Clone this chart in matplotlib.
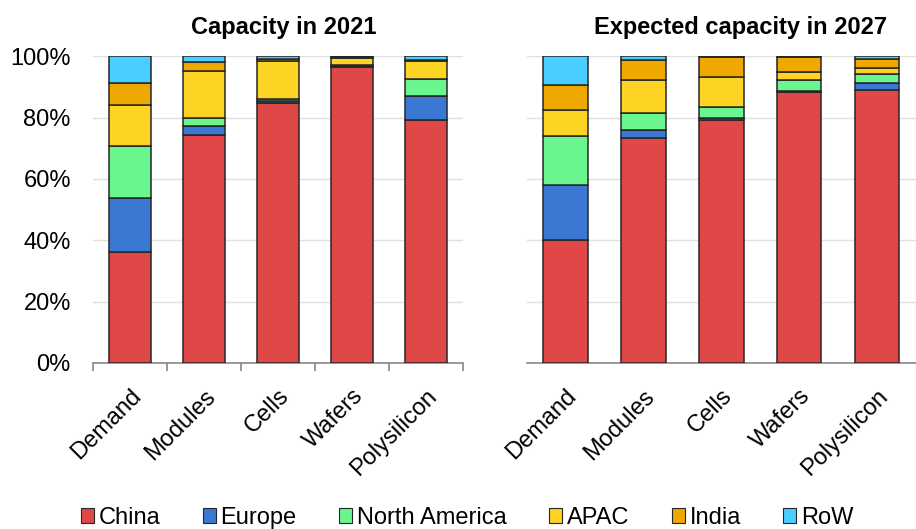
import numpy as np
import matplotlib
matplotlib.use("Agg")
import matplotlib.pyplot as plt
from matplotlib.ticker import PercentFormatter
from matplotlib.patches import Patch

categories = ["Demand", "Modules", "Cells", "Wafers", "Polysilicon"]
regions = ["China", "Europe", "North America", "APAC", "India", "RoW"]
colors = ["#E04848", "#3B78D4", "#6AF58F", "#FDD324", "#EFA800", "#48CFFF"]

# shares in %, one list per region, order follows categories
cap_2021 = {
    "China":         [36.3, 74.3, 84.9, 96.5, 79.2],
    "Europe":        [17.6, 2.8, 0.5, 0.2, 7.9],
    "North America": [16.7, 2.7, 0.6, 0.3, 5.6],
    "APAC":          [13.5, 15.4, 12.3, 2.3, 5.8],
    "India":         [7.0, 3.0, 0.9, 0.4, 0.3],
    "RoW":           [8.9, 1.8, 0.8, 0.3, 1.2],
}
cap_2027 = {
    "China":         [40.1, 73.4, 79.2, 88.4, 88.9],
    "Europe":        [17.9, 2.4, 0.8, 0.3, 2.2],
    "North America": [15.9, 5.7, 3.3, 3.4, 3.0],
    "APAC":          [8.5, 10.7, 10.0, 2.8, 2.0],
    "India":         [8.2, 6.7, 6.5, 4.7, 3.1],
    "RoW":           [9.4, 1.1, 0.2, 0.4, 0.8],
}
titles = ["Capacity in 2021", "Expected capacity in 2027"]

plt.rcParams["font.family"] = ["Liberation Sans", "DejaVu Sans"]

fig = plt.figure(figsize=(9.16, 5.29), dpi=100)
ax1 = fig.add_axes([0.1015, 0.3138, 0.404, 0.580])
ax2 = fig.add_axes([0.575, 0.3138, 0.425, 0.580])

x = np.arange(len(categories))
for ax, data, title, tx in zip([ax1, ax2], [cap_2021, cap_2027], titles, [0.516, 0.548]):
    bottom = np.zeros(len(categories))
    for reg, col in zip(regions, colors):
        vals = np.array(data[reg])
        ax.bar(x, vals, bottom=bottom, width=0.57, color=col,
               edgecolor="#262626", linewidth=1.1, zorder=3)
        bottom += vals
    ax.set_xlim(-0.5, len(categories) - 0.5)
    ax.set_ylim(0, 100)
    ax.yaxis.set_major_formatter(PercentFormatter(decimals=0))
    ax.set_yticks(np.arange(0, 101, 20))
    ax.grid(axis="y", color="#e0e0e0", linewidth=1.0, zorder=0)
    for s in ["top", "right", "left"]:
        ax.spines[s].set_visible(False)
    ax.spines["bottom"].set_color("#888888")
    ax.spines["bottom"].set_linewidth(1.2)
    ax.set_xticks(x)
    ax.set_xticklabels(categories, rotation=45, ha="right",
                       rotation_mode="anchor", fontsize=17)
    ax.tick_params(axis="x", length=0, pad=16)
    ax.tick_params(axis="y", length=0, labelsize=17, pad=16)
    ax.set_title(title, fontsize=17, fontweight="bold", pad=16, x=tx)

# boundary ticks between categories on the left panel
ax1.set_xticks(np.arange(-0.5, len(categories), 1.0), minor=True)
ax1.tick_params(axis="x", which="minor", length=6, color="#888888", width=1.2)
ax2.tick_params(axis="y", labelleft=False)

handles = [Patch(facecolor=c, edgecolor="#262626", linewidth=0.8) for c in colors]
fig.legend(handles, regions, loc="center", ncol=6, frameon=False,
           fontsize=17, bbox_to_anchor=(0.51, 0.021), borderpad=0,
           handlelength=0.55, handleheight=0.55, handletextpad=0.2,
           columnspacing=1.8)

fig.savefig("out.png", dpi=100)
